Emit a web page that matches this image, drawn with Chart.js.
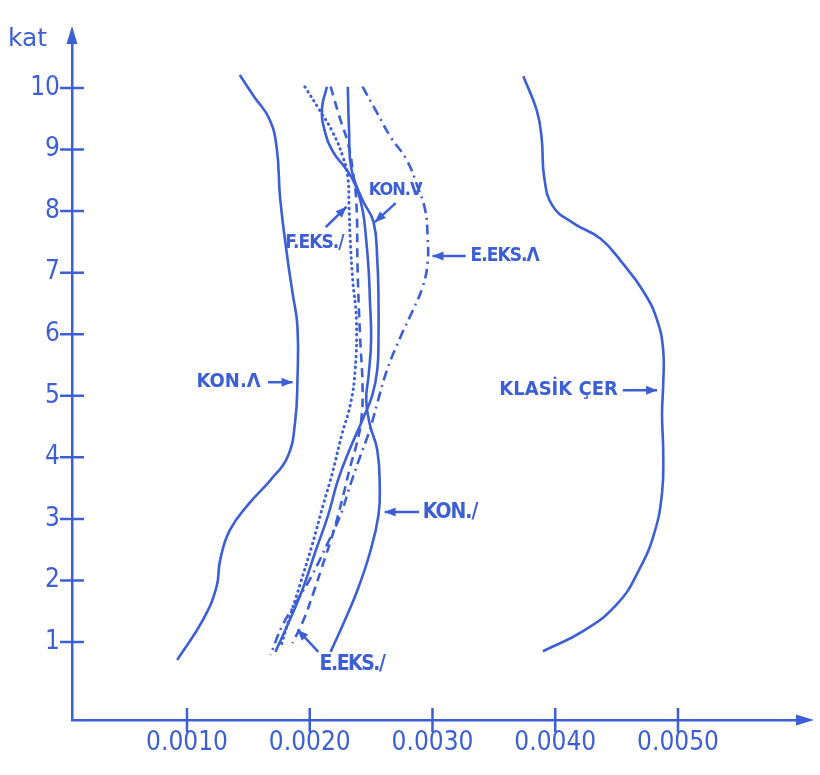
<!DOCTYPE html>
<html>
<head>
<meta charset="utf-8">
<script src="https://cdn.jsdelivr.net/npm/chart.js@4.4.1/dist/chart.umd.min.js"></script>
<style>
  html, body { margin: 0; padding: 0; background: #fff; }
  canvas { display: block; }
</style>
</head>
<body>
<canvas id="c" width="820" height="775"></canvas>
<script>
const INK = '#3c5fd3';
const NARROW = "'Liberation Sans Narrow', 'DejaVu Sans Condensed', sans-serif";

// tick labels
const yTicks = [1, 2, 3, 4, 5, 6, 7, 8, 9, 10];
const xTicks = [0.001, 0.002, 0.003, 0.004, 0.005];

// curves, each point is [x, kat]
const konLambda = [[0.00143,10.21],[0.00155,9.85],[0.00167,9.50],[0.00173,9.04],[0.00176,8.18],[0.00182,7.21],[0.00186,6.67],[0.00190,6.12],[0.00190,5.26],[0.00188,4.56],[0.00182,4.01],[0.00168,3.63],[0.00151,3.26],[0.00135,2.82],[0.00127,2.33],[0.00124,1.89],[0.00113,1.36],[0.00092,0.71]];
const klasikCer = [[0.00374,10.19],[0.00385,9.63],[0.00389,9.17],[0.00391,8.55],[0.00398,8.08],[0.00415,7.80],[0.00437,7.55],[0.00455,7.15],[0.00472,6.69],[0.00483,6.23],[0.00488,5.73],[0.00488,5.21],[0.00487,4.71],[0.00488,4.05],[0.00487,3.42],[0.00481,2.79],[0.00469,2.20],[0.00451,1.63],[0.00423,1.18],[0.00390,0.85]];
const konV = [[0.00231,10.02],[0.00232,9.32],[0.00234,8.67],[0.00243,8.18],[0.00252,7.82],[0.00255,7.21],[0.00256,6.56],[0.00256,5.91],[0.00255,5.42],[0.00251,5.01],[0.00243,4.61],[0.00233,4.15],[0.00223,3.63],[0.00215,3.06],[0.00205,2.49],[0.00194,1.85],[0.00182,1.28],[0.00172,0.84]];
const konSlash = [[0.00214,10.02],[0.00210,9.67],[0.00212,9.32],[0.00219,8.96],[0.00229,8.70],[0.00237,8.43],[0.00243,8.02],[0.00246,7.53],[0.00248,7.04],[0.00249,6.56],[0.00250,5.91],[0.00248,5.34],[0.00246,4.93],[0.00249,4.53],[0.00255,4.12],[0.00257,3.55],[0.00256,3.06],[0.00249,2.45],[0.00239,1.85],[0.00227,1.28],[0.00217,0.84]];
const fEksSlash = [[0.00196,10.02],[0.00208,9.64],[0.00219,9.27],[0.00227,8.88],[0.00231,8.55],[0.00232,8.07],[0.00233,7.53],[0.00235,6.88],[0.00238,6.23],[0.00237,5.42],[0.00233,4.85],[0.00226,4.36],[0.00219,3.79],[0.00211,3.23],[0.00202,2.58],[0.00192,1.93],[0.00183,1.36],[0.00176,0.90]];
const eEksSlash = [[0.00217,10.02],[0.00225,9.48],[0.00231,9.11],[0.00235,8.67],[0.00238,8.13],[0.00239,7.04],[0.00241,5.96],[0.00243,5.14],[0.00242,4.61],[0.00238,4.20],[0.00233,3.85],[0.00227,3.36],[0.00219,2.77],[0.00210,2.22],[0.00203,1.80],[0.00195,1.36],[0.00186,0.98]];
const eEksLambda = [[0.00243,10.02],[0.00255,9.59],[0.00266,9.20],[0.00279,8.83],[0.00288,8.39],[0.00294,8.02],[0.00296,7.58],[0.00296,7.16],[0.00292,6.77],[0.00284,6.39],[0.00274,5.96],[0.00263,5.42],[0.00255,4.88],[0.00249,4.45],[0.00241,4.01],[0.00233,3.55],[0.00225,3.06],[0.00214,2.58],[0.00202,2.09],[0.00190,1.68],[0.00178,1.28],[0.00168,0.79]];

const series = [
    { label: 'KON.Λ', pts: konLambda, dash: [] },
    { label: 'KLASİK ÇER', pts: klasikCer, dash: [] },
    { label: 'KON.V', pts: konV, dash: [] },
    { label: 'KON./', pts: konSlash, dash: [] },
    { label: 'F.EKS./', pts: fEksSlash, dash: [0.5, 5], cap: 'round', width: 3 },
    { label: 'E.EKS./', pts: eEksSlash, dash: [9, 6] },
    { label: 'E.EKS.Λ', pts: eEksLambda, dash: [10, 5, 2, 5] },
];

// text + arrow callouts, in data units
const callouts = [
    { text: 'KON.Λ', at: [0.00160, 5.22], align: 'right', from: [0.00166, 5.22], to: [0.00186, 5.22], size: 20 },
    { text: 'KLASİK ÇER', at: [0.00451, 5.09], align: 'right', from: [0.00455, 5.09], to: [0.00483, 5.09], size: 20 },
    { text: 'KON./', at: [0.00292, 3.11], align: 'left', from: [0.00289, 3.11], to: [0.00261, 3.11], size: 21, sp: -1 },
    { text: 'E.EKS./', at: [0.00208, 0.64], align: 'left', from: [0.00207, 0.84], to: [0.00190, 1.20], size: 21, sp: -1.5 },
    { text: 'KON.V', at: [0.00248, 8.33], align: 'left', from: [0.00270, 8.13], to: [0.00253, 7.82], size: 18, sp: -1 },
    { text: 'F.EKS./', at: [0.00180, 7.48], align: 'left', from: [0.00213, 7.74], to: [0.00230, 8.07], size: 19, sp: -1 },
    { text: 'E.EKS.Λ', at: [0.00331, 7.27], align: 'left', from: [0.00327, 7.27], to: [0.00300, 7.27], size: 19, sp: -1 },
];

function arrowHead(ctx, x0, y0, x1, y1, len, half) {
    const a = Math.atan2(y1 - y0, x1 - x0);
    ctx.beginPath();
    ctx.moveTo(x1, y1);
    ctx.lineTo(x1 - len * Math.cos(a) + half * Math.sin(a), y1 - len * Math.sin(a) - half * Math.cos(a));
    ctx.lineTo(x1 - len * Math.cos(a) - half * Math.sin(a), y1 - len * Math.sin(a) + half * Math.cos(a));
    ctx.closePath();
    ctx.fill();
}

const inkPlugin = {
    id: 'ink',
    afterDraw(chart) {
        const { ctx, chartArea: a, scales: { x, y } } = chart;
        ctx.save();
        ctx.strokeStyle = INK;
        ctx.fillStyle = INK;
        ctx.lineWidth = 2.5;
        ctx.setLineDash([]);
        // crossing tick marks
        ctx.beginPath();
        yTicks.forEach(v => { const py = y.getPixelForValue(v); ctx.moveTo(a.left - 12, py); ctx.lineTo(a.left + 12, py); });
        xTicks.forEach(v => { const px = x.getPixelForValue(v); ctx.moveTo(px, a.bottom - 12); ctx.lineTo(px, a.bottom + 12); });
        ctx.stroke();
        // axis arrows
        arrowHead(ctx, a.left, a.top + 5, a.left, a.top - 14, 18, 5.5);
        arrowHead(ctx, a.right - 5, a.bottom, a.right + 14, a.bottom, 18, 5.5);
        ctx.font = "25px 'DejaVu Sans', sans-serif";
        ctx.textAlign = 'left';
        ctx.textBaseline = 'alphabetic';
        ctx.fillText('kat', 8, a.top + 6);
        // callouts
        callouts.forEach(c => {
            const fx = x.getPixelForValue(c.from[0]), fy = y.getPixelForValue(c.from[1]);
            const tx = x.getPixelForValue(c.to[0]), ty = y.getPixelForValue(c.to[1]);
            ctx.lineWidth = 2.5;
            ctx.beginPath();
            ctx.moveTo(fx, fy);
            ctx.lineTo(tx, ty);
            ctx.stroke();
            arrowHead(ctx, fx, fy, tx, ty, 11, 4.5);
            ctx.font = `bold ${c.size}px ${NARROW}`;
            ctx.letterSpacing = (c.sp || 0) + 'px';
            ctx.textAlign = c.align;
            ctx.textBaseline = 'middle';
            ctx.fillText(c.text, x.getPixelForValue(c.at[0]), y.getPixelForValue(c.at[1]));
        });
        ctx.restore();
    }
};

new Chart(document.getElementById('c'), {
    type: 'scatter',
    data: {
        datasets: series.map(s => ({
            label: s.label,
            data: s.pts.map(p => ({ x: p[0], y: p[1] })),
            showLine: true,
            borderColor: INK,
            borderWidth: s.width || 2.6,
            borderDash: s.dash,
            borderCapStyle: s.cap || 'butt',
            tension: 0.45,
            pointRadius: 0,
            fill: false,
        }))
    },
    options: {
        responsive: false,
        animation: false,
        events: [],
        layout: { padding: { left: 0, right: 20, top: 40, bottom: 0 } },
        plugins: { legend: { display: false }, tooltip: { enabled: false } },
        scales: {
            x: {
                type: 'linear',
                min: 0.0000631,
                max: 0.005994,
                afterBuildTicks: s => { s.ticks = xTicks.map(v => ({ value: v })); },
                afterFit: s => { s.height = 55; },
                grid: { display: false, drawTicks: false },
                border: { display: true, color: INK, width: 2.5 },
                ticks: { color: INK, padding: 8, maxRotation: 0, font: { family: NARROW, size: 26 }, callback: v => v.toFixed(4) }
            },
            y: {
                type: 'linear',
                min: -0.267,
                max: 10.779,
                afterBuildTicks: s => { s.ticks = yTicks.map(v => ({ value: v })); },
                afterFit: s => { s.width = 72; },
                grid: { display: false, drawTicks: false },
                border: { display: true, color: INK, width: 2.5 },
                ticks: { color: INK, padding: 12, font: { family: NARROW, size: 26 } }
            }
        }
    },
    plugins: [inkPlugin]
});
</script>
</body>
</html>
